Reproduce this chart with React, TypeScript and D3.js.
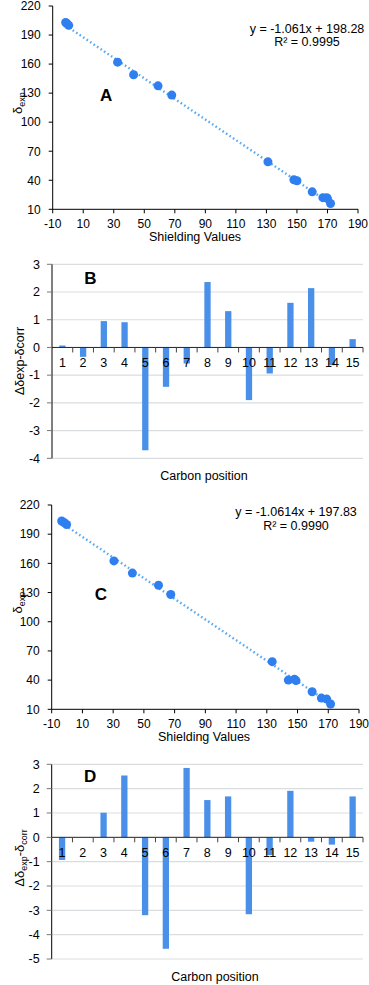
import React from 'react'
import * as d3 from 'd3'

// scatter data: shielding values vs experimental shift
const shieldA = [-1.5, -0.5, 0.5, 32.5, 43, 59, 68, 131, 148, 150, 160, 167, 169.5, 170, 172]
const deltaA = [203, 201.5, 200, 162, 149, 137.5, 128, 59, 40.5, 39.5, 28, 22, 22, 21, 16]
const shieldC = [-3.5, -2, -0.3, 30.5, 42.5, 59.5, 67.5, 133.5, 144, 148, 149, 159.5, 165.5, 169, 171.5]
const deltaC = [203.5, 202, 200, 162.5, 150, 137.5, 128, 59, 40, 41, 39.5, 28, 21.5, 20.5, 15.5]
const fitA = [-1.061, 198.28]
const fitC = [-1.0614, 197.83]
const eqA = ['y = -1.061x + 198.28', 'R² = 0.9995']
const eqC = ['y = -1.0614x + 197.83', 'R² = 0.9990']
const shieldTicks = [-10, 10, 30, 50, 70, 90, 110, 130, 150, 170, 190]
const deltaTicks = [10, 40, 70, 100, 130, 160, 190, 220]

// bar data: deviation per carbon position
const positions = ['1', '2', '3', '4', '5', '6', '7', '8', '9', '10', '11', '12', '13', '14', '15']
const devB = [0.07, -0.34, 0.95, 0.91, -3.71, -1.42, -0.58, 2.36, 1.31, -1.9, -0.94, 1.61, 2.14, -0.64, 0.3]
const devD = [-0.93, 0, 1.01, 2.54, -3.2, -4.58, 2.85, 1.53, 1.68, -3.16, -0.73, 1.91, -0.18, -0.3, 1.68]
const devTicksB = [-4, -3, -2, -1, 0, 1, 2, 3]
const devTicksD = [-5, -4, -3, -2, -1, 0, 1, 2, 3]

const FONT = 'Liberation Sans, Arial, sans-serif'
const DOT = '#2f7ff0'
const BAR = '#4a90e8'

function Scatter({ xs, ys, fit, eq, letter, top, bottom, left, right, eqX, eqY, titleX, letterX }) {
    const x = d3.scaleLinear().domain([-10, 190]).range([left, right])
    const y = d3.scaleLinear().domain([10, 220]).range([bottom, top])
    const x0 = d3.min(xs), x1 = d3.max(xs)
    const trend = d3.line().x(d => x(d)).y(d => y(fit[0] * d + fit[1]))([x0, x1])
    return (
        <g fontFamily={FONT}>
            <path d={trend} stroke="#5aaaf2" strokeWidth={2.4} strokeDasharray="1.6 2.6" fill="none" />
            {xs.map((v, i) => (
                <circle key={i} cx={x(v)} cy={y(ys[i])} r={4.5} fill={DOT} />
            ))}
            <line x1={left} x2={left} y1={top} y2={bottom} stroke="#000" />
            <line x1={left} x2={right} y1={bottom} y2={bottom} stroke="#000" />
            {deltaTicks.map(t => (
                <g key={t}>
                    <line x1={left - 4} x2={left} y1={y(t)} y2={y(t)} stroke="#000" />
                    <text x={left - 12} y={y(t) + 4.3} fontSize={12} textAnchor="end">{t}</text>
                </g>
            ))}
            {shieldTicks.map(t => (
                <g key={t}>
                    <line x1={x(t)} x2={x(t)} y1={bottom} y2={bottom + 4} stroke="#000" />
                    <text x={x(t)} y={bottom + 19} fontSize={12} textAnchor="middle">{t}</text>
                </g>
            ))}
            <text x={titleX} y={bottom + 32} fontSize={12.5} textAnchor="middle">Shielding Values</text>
            <text transform={`translate(22,${y(130) + 10}) rotate(-90)`} fontSize={13} textAnchor="middle">
                δ<tspan fontSize={9} dy={3}>exp</tspan>
            </text>
            <text x={eqX} y={eqY} fontSize={12.5} textAnchor="middle">{eq[0]}</text>
            <text x={eqX} y={eqY + 13.5} fontSize={12.5} textAnchor="middle">{eq[1]}</text>
            <text x={x(letterX)} y={y(122)} fontSize={17} fontWeight="bold" textAnchor="middle">{letter}</text>
        </g>
    )
}

function Bars({ values, ticks, letter, top, bottom, left, right, titleX, titleY, label }) {
    const x = d3.scaleBand().domain(positions).range([left, right])
    const y = d3.scaleLinear().domain([ticks[0], ticks[ticks.length - 1]]).range([bottom, top])
    const bw = 6.3
    return (
        <g fontFamily={FONT}>
            {ticks.filter(t => t !== 0).map(t => (
                <line key={t} x1={left} x2={right} y1={y(t)} y2={y(t)} stroke="#d9dde0" strokeWidth={1.2} />
            ))}
            {values.map((v, i) => (
                <rect key={i} x={x(positions[i]) + x.bandwidth() / 2 - bw / 2} width={bw}
                    y={y(Math.max(0, v))} height={Math.abs(y(v) - y(0))} fill={BAR} />
            ))}
            <line x1={left} x2={right} y1={y(0)} y2={y(0)} stroke="#222" />
            {positions.map((p, i) => (
                <g key={p}>
                    <line x1={x(p) + x.bandwidth()} x2={x(p) + x.bandwidth()} y1={y(0)} y2={y(0) + 5} stroke="#444" />
                    <text x={x(p) + x.bandwidth() / 2} y={y(0) + 20} fontSize={12.5} textAnchor="middle">{p}</text>
                </g>
            ))}
            <line x1={left} x2={left} y1={top} y2={bottom} stroke="#000" />
            {ticks.map(t => (
                <g key={t}>
                    <line x1={left - 5} x2={left} y1={y(t)} y2={y(t)} stroke="#777" />
                    <text x={left - 12} y={y(t) + 4.3} fontSize={12.5} textAnchor="end">{t}</text>
                </g>
            ))}
            <text x={titleX} y={titleY} fontSize={12.5} textAnchor="middle">Carbon position</text>
            {label}
            <text x={x('3') - 3} y={y(2.5) + 6} fontSize={17} fontWeight="bold" textAnchor="middle">{letter}</text>
        </g>
    )
}

export default function App() {
    const labelB = (
        <text transform="translate(24,361) rotate(-90)" fontSize={12.5} textAnchor="middle">Δδexp-δcorr</text>
    )
    const labelD = (
        <text transform="translate(24,858) rotate(-90)" fontSize={13} textAnchor="middle">
            Δδ<tspan fontSize={9} dy={3}>exp</tspan><tspan dy={-3}>-δ</tspan><tspan fontSize={9} dy={3}>corr</tspan>
        </text>
    )
    return (
        <svg width={369} height={985} style={{ position: 'absolute', left: 0, top: 0, background: '#fff' }}>
            <Scatter xs={shieldA} ys={deltaA} fit={fitA} eq={eqA} letter="A" letterX={25}
                top={6} bottom={209.3} left={52.7} right={358} eqX={307} eqY={32.5} titleX={195} />
            <Bars values={devB} ticks={devTicksB} letter="B" top={264.3} bottom={458.3} left={52} right={363}
                titleX={204} titleY={479.5} label={labelB} />
            <Scatter xs={shieldC} ys={deltaC} fit={fitC} eq={eqC} letter="C" letterX={22}
                top={505} bottom={709.3} left={51.7} right={359} eqX={296} eqY={516} titleX={204} />
            <Bars values={devD} ticks={devTicksD} letter="D" top={764.3} bottom={959} left={51.7} right={363}
                titleX={215} titleY={981} label={labelD} />
        </svg>
    )
}
